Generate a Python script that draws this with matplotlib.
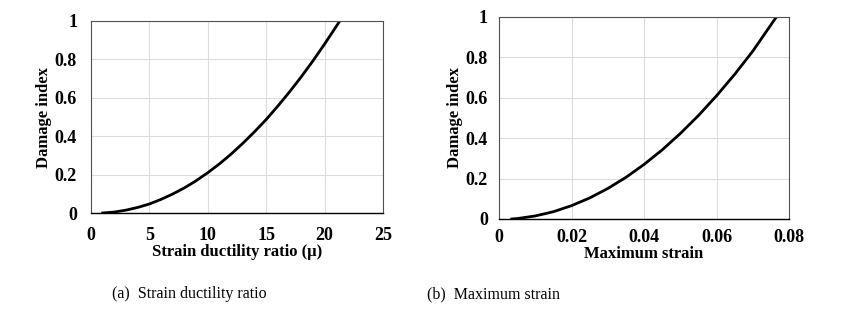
import matplotlib.pyplot as plt

plt.rcParams['font.family'] = ['Liberation Serif', 'DejaVu Serif']

# (a) strain ductility ratio vs damage index
mu = [1, 2, 3, 4, 5, 6, 7, 8, 9, 10, 11, 12, 13, 14, 15, 16, 17, 18, 19, 20, 21, 21.3]
di_mu = [0, 0.005, 0.015, 0.029, 0.047, 0.071, 0.099, 0.131, 0.168, 0.21, 0.256,
         0.307, 0.363, 0.423, 0.487, 0.557, 0.631, 0.709, 0.792, 0.88, 0.972, 1.0]

# (b) maximum strain vs damage index
eps = [0.0035, 0.005, 0.01, 0.015, 0.02, 0.025, 0.03, 0.035, 0.04, 0.045, 0.05,
       0.055, 0.06, 0.065, 0.07, 0.0765]
di_eps = [0, 0.002, 0.015, 0.036, 0.066, 0.104, 0.151, 0.206, 0.27, 0.342, 0.423,
          0.512, 0.61, 0.716, 0.831, 1.0]

fig = plt.figure(figsize=(8.52, 3.25), dpi=100)
ax1 = fig.add_axes([0.1068, 0.3446, 0.3427, 0.5908])
ax2 = fig.add_axes([0.5857, 0.3262, 0.3404, 0.6215])


def style(ax, xticks, xlabels, xlabel, xpad, ypad, ylpad):
    ax.set_ylim(0, 1)
    ax.set_yticks([0, 0.2, 0.4, 0.6, 0.8, 1])
    ax.set_yticklabels(['0', '0.2', '0.4', '0.6', '0.8', '1'])
    ax.set_xticks(xticks)
    ax.set_xticklabels(xlabels)
    ax.set_xlim(xticks[0], xticks[-1])
    ax.grid(True, color='#dcdcdc', linewidth=0.8)
    ax.set_axisbelow(True)
    ax.tick_params(length=0, labelsize=13)
    ax.tick_params(axis='x', pad=xpad)
    ax.tick_params(axis='y', pad=ypad)
    for t in ax.get_xticklabels() + ax.get_yticklabels():
        t.set_fontweight('bold')
    for s in ax.spines.values():
        s.set_color('#505050')
        s.set_linewidth(0.8)
    ax.spines['bottom'].set_color('black')
    ax.spines['bottom'].set_linewidth(1.0)
    ax.set_ylabel('Damage index', fontsize=12, fontweight='bold', labelpad=ylpad)
    ax.set_xlabel(xlabel, fontsize=12, fontweight='bold', labelpad=0)


ax1.plot(mu, di_mu, color='black', linewidth=2)
style(ax1, [0, 5, 10, 15, 20, 25], ['0', '5', '10', '15', '20', '25'],
      'Strain ductility ratio (μ)', 10, 10, 2)

ax2.plot(eps, di_eps, color='black', linewidth=2)
style(ax2, [0, 0.02, 0.04, 0.06, 0.08], ['0', '0.02', '0.04', '0.06', '0.08'],
      'Maximum strain', 7, 8, 2)

fig.text(112 / 852, 1 - 298 / 325, '(a)  Strain ductility ratio', fontsize=11.5)
fig.text(427 / 852, 1 - 298 / 325, '(b)  Maximum strain', fontsize=11.5)

fig.savefig('out.png', dpi=100)
